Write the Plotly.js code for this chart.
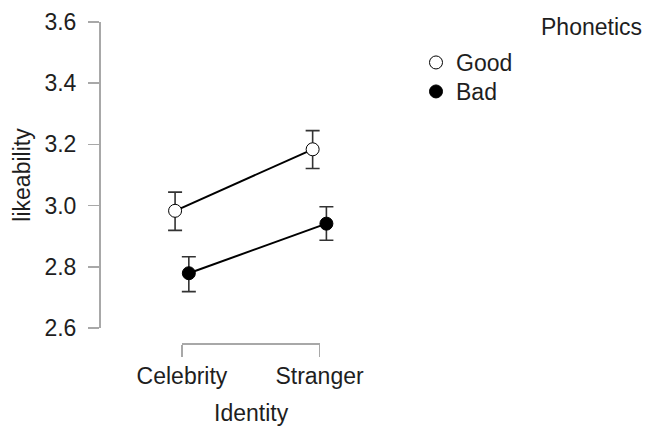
<!DOCTYPE html>
<html><head><meta charset="utf-8">
<script src="https://cdn.plot.ly/plotly-3.0.1.min.js"></script>
<style>html,body{margin:0;padding:0;background:#fff;}#plot{width:647px;height:426px;}</style>
</head><body><div id="plot"></div>
<script>
// ---- data ----
const categories = ['Celebrity', 'Stranger'];
const groups = ['Good', 'Bad'];
const goodMean  = [2.983, 3.184];
const goodUpper = [3.044, 3.245];
const goodLower = [2.919, 3.121];
const badMean   = [2.779, 2.941];
const badUpper  = [2.833, 2.996];
const badLower  = [2.719, 2.887];
const yTicks = [2.6, 2.8, 3.0, 3.2, 3.4, 3.6];

// ---- drawing ----
const dodge = 0.05;
function xs(off) { return categories.map((c, i) => i + off); }
function lineTrace(mean, off) {
  return {type: 'scatter', mode: 'lines', x: xs(off), y: mean, xaxis: 'x', yaxis: 'y',
    line: {color: '#000', width: 2}, showlegend: false, hoverinfo: 'skip'};
}
function markTrace(name, mean, up, lo, off, fill, leg) {
  return {
    type: 'scatter', mode: 'markers', name: name, legend: leg,
    x: xs(off), y: mean, xaxis: 'x', yaxis: 'y',
    marker: {symbol: 'circle', size: 13, color: fill, line: {color: '#000', width: 1}},
    error_y: {type: 'data', symmetric: false,
      array: mean.map((m, i) => up[i] - m),
      arrayminus: mean.map((m, i) => m - lo[i]),
      color: '#333', thickness: 1.6, width: 7},
    cliponaxis: false
  };
}
const traces = [
  lineTrace(goodMean, -dodge),
  lineTrace(badMean, dodge),
  markTrace(groups[0], goodMean, goodUpper, goodLower, -dodge, '#fff', 'legend'),
  markTrace(groups[1], badMean, badUpper, badLower, dodge, '#000', 'legend2'),
  {type: 'scatter', x: [], y: [], xaxis: 'x2', yaxis: 'y', showlegend: false, hoverinfo: 'skip'}
];
const font = {family: 'Liberation Sans, Arial, sans-serif', size: 23, color: '#1e1e1e'};
const W = 647, L = 99, R = 420, T = 22, B = 343;
const pw = R - L, ph = B - T;
const legBase = {
  xref: 'container', yref: 'container', xanchor: 'left', yanchor: 'top',
  font: font, bgcolor: 'rgba(0,0,0,0)', itemclick: false
};
const axisGray = '#a8a8a8';
const layout = {
  width: W, height: 426,
  margin: {l: L, r: W - R, t: T, b: 426 - B, pad: 0},
  paper_bgcolor: '#fff', plot_bgcolor: 'rgba(0,0,0,0)',
  font: font,
  showlegend: true,
  xaxis: {range: [(L - 183) / 139.3, (R - 183) / 139.3], visible: false, anchor: 'y', fixedrange: true},
  xaxis2: {
    domain: [(183 - L) / pw, (322.3 - L) / pw], range: [0, 1],
    anchor: 'free', position: 0,
    showline: true, linecolor: axisGray, linewidth: 1.5,
    ticks: 'outside', ticklen: 12, tickcolor: axisGray, tickwidth: 1.5,
    tickvals: [0, 1], ticktext: categories, showgrid: false, zeroline: false,
    tickfont: font
  },
  yaxis: {
    domain: [(B - 328) / ph, 1], range: [2.6, 3.6],
    anchor: 'free', position: 0,
    showline: true, linecolor: axisGray, linewidth: 1.5,
    ticks: 'outside', ticklen: 11, tickcolor: axisGray, tickwidth: 1.5,
    tickvals: yTicks, ticktext: yTicks.map(v => v.toFixed(1)),
    showgrid: false, zeroline: false, ticklabelstandoff: 7,
    tickfont: font,
    title: {text: 'likeability', font: font, standoff: 6}
  },
  legend: Object.assign({}, legBase, {x: 416 / W, y: 1 - 41 / 426}),
  legend2: Object.assign({}, legBase, {x: 416 / W, y: 1 - 70 / 426}),
  annotations: [{
    text: 'Phonetics', xref: 'paper', yref: 'paper',
    x: (545 - L) / pw, y: (B - 27) / ph, xanchor: 'left', yanchor: 'middle',
    showarrow: false, font: font
  }, {
    text: 'Identity', xref: 'paper', yref: 'paper',
    x: (253 - L) / pw, y: (B - 413) / ph, xanchor: 'center', yanchor: 'middle',
    showarrow: false, font: font
  }]
};
Plotly.newPlot('plot', traces, layout, {displayModeBar: false, staticPlot: true});
</script></body></html>
